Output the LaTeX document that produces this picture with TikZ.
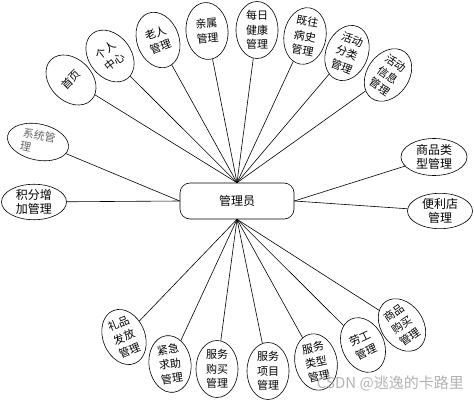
\documentclass[tikz,border=0pt]{standalone}
\usepackage{fontspec}
\setmainfont{Noto Sans CJK SC}
\usetikzlibrary{shapes.geometric}
\tikzset{
  vell/.style={ellipse, draw, line width=0.6pt, fill=white, minimum width=42pt, minimum height=57pt, inner sep=0pt, align=center, font=\fontsize{11}{14.5}\selectfont},
  hell/.style={ellipse, draw, line width=0.6pt, fill=white, minimum width=65pt, minimum height=35pt, inner sep=0pt, align=center, font=\fontsize{12}{14}\selectfont},
  hub/.style={rectangle, draw, line width=0.6pt, rounded corners=10pt, minimum width=114pt, minimum height=36pt, font=\fontsize{12}{14}\selectfont},
  conn/.style={line width=0.6pt},
  mark wm/.style={text=gray!60, font=\fontsize{15}{15}\selectfont, inner sep=0pt}
}
\begin{document}
\begin{tikzpicture}[x=1pt,y=-1pt]
\useasboundingbox (0,0) rectangle (474,404);
\node[hub] (m) at (237,201) {管理员};
% top
\node[vell, rotate=45] (e1) at (71,80) {首页};
\node[vell, rotate=38] (e2) at (110,56) {个人\\中心};
\node[vell, rotate=20] (e3) at (158,40) {老人\\管理};
\node[vell, rotate=5] (e4) at (207,31) {亲属\\管理};
\node[vell] (e5) at (257,30) {每日\\健康\\管理};
\node[vell, rotate=-10] (e6) at (305,36) {既往\\病史\\管理};
\node[vell, rotate=-22] (e7) at (347,53) {活动\\分类\\管理};
\node[vell, rotate=-35] (e8) at (388,75) {活动\\信息\\管理};
% sides
\node[hell, rotate=-12, minimum width=62pt, minimum height=36pt, align=left, text=gray!80!black, font=\fontsize{11}{14}\selectfont] (s1) at (38,142) {系统管\\理};
\node[hell] (s2) at (34,202) {积分增\\加管理};
\node[hell, minimum width=66pt, minimum height=37pt] (s3) at (434,157) {商品类\\型管理};
\node[hell] (s4) at (440,211) {便利店\\管理};
% bottom
\node[vell, rotate=22] (b1) at (124,337) {礼品\\发放\\管理};
\node[vell, rotate=8] (b2) at (170,364) {紧急\\求助\\管理};
\node[vell] (b3) at (217,369) {服务\\购买\\管理};
\node[vell] (b4) at (268,371) {服务\\项目\\管理};
\node[vell, rotate=12] (b5) at (316,362) {服务\\类型\\管理};
\node[vell, rotate=25] (b6) at (363,345) {劳工\\管理};
\node[vell, rotate=35] (b7) at (402,325) {商品\\购买\\管理};
% connectors
\foreach \n in {e1,e2,e3,e4,e5,e6,e7,e8} \draw[conn] (m.north) -- (\n);
\foreach \n in {b1,b2,b3,b4,b5,b6,b7} \draw[conn] (m.south) -- (\n);
\draw[conn] (m.west) -- (s1);
\draw[conn] (m.west) -- (s2);
\draw[conn] (m.east) -- (s3);
\draw[conn] (m.east) -- (s4);
\node[mark wm, anchor=east] (wm) at (464,383) {CSDN @逃逸的卡路里};
\end{tikzpicture}
\end{document}
